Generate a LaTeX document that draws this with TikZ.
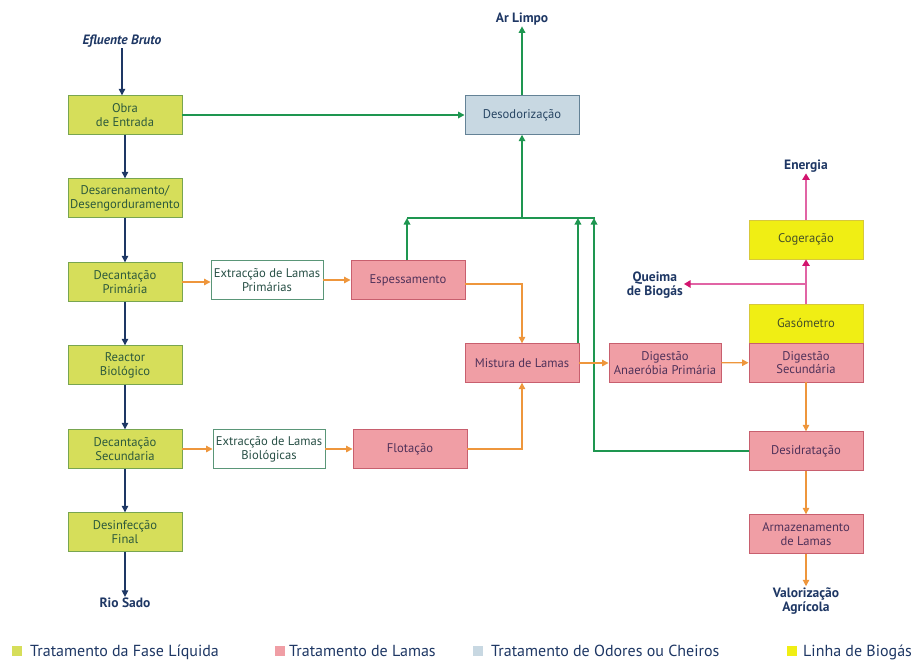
\documentclass[tikz,border=0pt]{standalone}
\usepackage{fontspec}
\setmainfont{PT Sans}
\usetikzlibrary{arrows.meta}
\definecolor{liqfill}{RGB}{214,222,90}
\definecolor{liqdraw}{RGB}{120,165,80}
\definecolor{liqtext}{RGB}{45,90,60}
\definecolor{lamfill}{RGB}{240,158,165}
\definecolor{lamdraw}{RGB}{200,95,110}
\definecolor{lamtext}{RGB}{80,50,90}
\definecolor{odofill}{RGB}{200,216,226}
\definecolor{ododraw}{RGB}{100,130,150}
\definecolor{odotext}{RGB}{40,70,100}
\definecolor{biofill}{RGB}{240,238,20}
\definecolor{biodraw}{RGB}{215,200,60}
\definecolor{biotext}{RGB}{70,80,40}
\definecolor{extdraw}{RGB}{90,150,120}
\definecolor{exttext}{RGB}{40,80,70}
\definecolor{navyc}{RGB}{30,55,100}
\definecolor{grnc}{RGB}{30,150,80}
\definecolor{orgc}{RGB}{238,150,60}
\definecolor{magc}{RGB}{225,100,165}
\definecolor{magtip}{RGB}{210,20,110}
\begin{document}
\begin{tikzpicture}[x=1pt,y=-1pt,
  box/.style={draw, minimum width=114pt, minimum height=38.5pt, inner sep=1pt, align=center,
    font=\fontsize{12.6}{13.8}\selectfont, line width=0.9pt},
  liq/.style={box, fill=liqfill, draw=liqdraw, text=liqtext},
  lam/.style={box, fill=lamfill, draw=lamdraw, text=lamtext},
  ext/.style={box, fill=white, draw=extdraw, text=exttext, minimum width=112pt},
  odo/.style={box, fill=odofill, draw=ododraw, text=odotext},
  bio/.style={box, fill=biofill, draw=biodraw, text=biotext},
  lbl/.style={font=\fontsize{13.5}{14.5}\selectfont\bfseries, text=navyc, align=center, inner sep=1pt},
  navyarr/.style={draw=navyc, line width=1.2pt, -{Triangle[length=6.5pt,width=6.5pt]}},
  grnarr/.style={draw=grnc, line width=1.6pt, -{Triangle[length=6.5pt,width=6.5pt]}},
  grnline/.style={draw=grnc, line width=1.6pt},
  orgarr/.style={draw=orgc, line width=1.2pt, -{Triangle[length=6.5pt,width=6.5pt]}},
  magarr/.style={draw=magc, line width=1.2pt, -{Triangle[length=6.5pt,width=7.5pt,color=magtip]}},
  sq/.style={minimum size=10pt, inner sep=0pt},
  legtext/.style={font=\fontsize{16}{18}\selectfont, text=navyc, inner sep=0pt}
]
\useasboundingbox (0,0) rectangle (917,662);
% liquid phase
\node[liq] (obra) at (125,115) {Obra\\de Entrada};
\node[liq] (desar) at (125,198) {Desarenamento/\\Desengorduramento};
\node[liq] (decp) at (125,282) {Decantação\\Primária};
\node[liq] (reac) at (125,365) {Reactor\\Biológico};
\node[liq] (decs) at (125,449) {Decantação\\Secundaria};
\node[liq] (desi) at (125,532) {Desinfecção\\Final};
\node[lbl] (eflu) at (122,41) {\itshape Efluente Bruto};
\node[lbl] (rio) at (125,603) {Rio Sado};
% sludge
\node[ext] (extp) at (267,280) {Extracção de Lamas\\Primárias};
\node[ext] (extb) at (269,449) {Extracção de Lamas\\Biológicas};
\node[lam] (espe) at (408,280) {Espessamento};
\node[lam] (flot) at (410,449) {Flotação};
\node[lam] (mist) at (522,363) {Mistura de Lamas};
\node[lam, minimum width=112pt] (diga) at (665,363) {Digestão\\Anaeróbia Primária};
\node[bio, minimum height=39pt] (gaso) at (806,323.5) {Gasómetro};
\node[lam, minimum height=39pt] (digs) at (806,362.5) {Digestão\\Secundária};
\node[bio, minimum height=39pt] (coge) at (806,239.5) {Cogeração};
\node[lam] (desid) at (806,451) {Desidratação};
\node[lam] (arma) at (806,534) {Armazenamento\\de Lamas};
% odours
\node[odo] (deso) at (522,115) {Desodorização};
\node[lbl] (ar) at (522,19) {Ar Limpo};
\node[lbl] (ener) at (806,166) {Energia};
\node[lbl, anchor=east] (quei) at (684,285) {Queima\\de Biogás};
\node[lbl] (valo) at (806,601) {Valorização\\Agrícola};
% navy flow
\draw[navyarr] (eflu) -- (eflu |- obra.north);
\draw[navyarr] (obra) -- (desar);
\draw[navyarr] (desar) -- (decp);
\draw[navyarr] (decp) -- (reac);
\draw[navyarr] (reac) -- (decs);
\draw[navyarr] (decs) -- (desi);
\draw[navyarr] (desi) -- (rio);
% green
\coordinate (cl) at (407,218);
\coordinate (cm) at (522,218);
\coordinate (cr) at (595,218);
\coordinate (cg) at (594,218);
\draw[grnarr] (obra) -- (deso);
\draw[grnarr] (deso) -- (ar);
\draw[grnline] (cl) -- (cr);
\draw[grnarr] (cm) -- (deso);
\draw[grnarr] (espe.north -| cl) -- (cl);
\draw[grnarr] ([xshift=-1.5pt]mist.north east) -- ([xshift=-1.5pt]mist.north east |- cl);
\draw[grnarr] (desid.west) -| (cg);
% orange
\draw[orgarr] (decp.east) -- (decp.east -| extp.west);
\draw[orgarr] (extp) -- (espe);
\draw[orgarr] ([yshift=-4pt]espe.east) -| (mist.north);
\draw[orgarr] (flot.east) -| (mist.south);
\draw[orgarr] (decs.east) -- (decs.east -| extb.west);
\draw[orgarr] (extb) -- (flot);
\draw[orgarr] (mist) -- (diga);
\draw[orgarr] (diga) -- (digs);
\draw[orgarr] (digs) -- (desid);
\draw[orgarr] (desid) -- (arma);
\draw[orgarr] (arma) -- (valo);
% biogas
\coordinate (qb) at (806,284);
\draw[magarr] (gaso) -- (coge);
\draw[magarr] (qb) -- (quei.east |- qb);
\draw[magarr] (coge) -- (ener);
% legend
\node[sq, fill=liqfill] (s1) at (17,651) {};
\node[legtext, anchor=base west] (l1) at (30,656) {Tratamento da Fase Líquida};
\node[sq, fill=lamfill] (s2) at (280,651) {};
\node[legtext, anchor=base west] (l2) at (289,656) {Tratamento de Lamas};
\node[sq, fill=odofill] (s3) at (478,651) {};
\node[legtext, anchor=base west] (l3) at (491,656) {Tratamento de Odores ou Cheiros};
\node[sq, fill=biofill] (s4) at (792,651) {};
\node[legtext, anchor=base west] (l4) at (803,656) {Linha de Biogás};
\end{tikzpicture}
\end{document}
